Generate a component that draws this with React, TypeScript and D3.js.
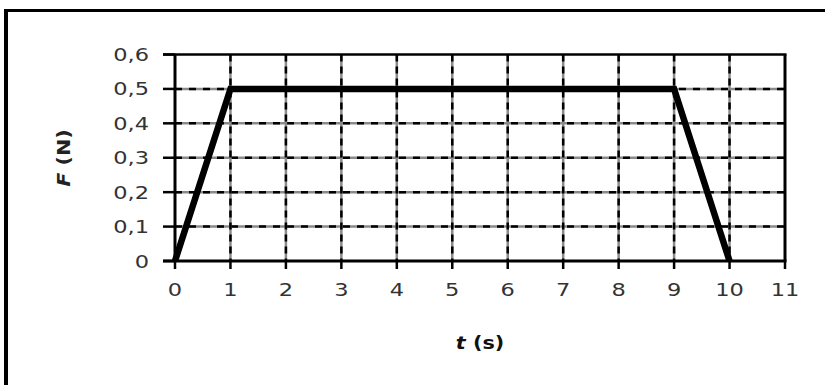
import React from 'react';
import * as d3 from 'd3';

const xTicks = [0, 1, 2, 3, 4, 5, 6, 7, 8, 9, 10, 11];
const yTicks = [0, 0.1, 0.2, 0.3, 0.4, 0.5, 0.6];
const yTickLabels = ['0', '0,1', '0,2', '0,3', '0,4', '0,5', '0,6'];
const timeS = [0, 1, 9, 10];
const forceN = [0, 0.5, 0.5, 0];

const W = 825;
const H = 385;

export default function App() {
  const x = d3.scaleLinear().domain([0, 11]).range([175, 785]);
  const y = d3.scaleLinear().domain([0, 0.6]).range([261, 54.5]);

  const line = d3.line<number>()
    .x((_, i) => x(timeS[i]))
    .y(d => y(d));

  const x0 = x(0), x1 = x(11), y0 = y(0), y1 = y(0.6);
  const font = '"DejaVu Sans", Arial, sans-serif';

  return (
    <svg width={W} height={H} style={{ position: 'absolute', left: 0, top: 0, background: '#fff' }}>
      {/* outer frame */}
      <line x1={4} x2={W} y1={10.5} y2={10.5} stroke="#000" strokeWidth={3} />
      <line x1={6} x2={6} y1={9} y2={H} stroke="#000" strokeWidth={4} />

      {/* horizontal grid */}
      {yTicks.slice(1, -1).map(t => (
        <g key={'h' + t}>
          <line x1={x0} x2={x1} y1={y(t)} y2={y(t)} stroke="#8a8a8a" strokeWidth={2.5} />
          <line x1={x0} x2={x1} y1={y(t)} y2={y(t)} stroke="#000" strokeWidth={2.5} strokeDasharray="7 7" />
        </g>
      ))}
      {/* vertical grid */}
      {xTicks.slice(1, -1).map(t => (
        <g key={'v' + t}>
          <line x1={x(t)} x2={x(t)} y1={y1} y2={y0} stroke="#8a8a8a" strokeWidth={2.5} />
          <line x1={x(t)} x2={x(t)} y1={y1} y2={y0} stroke="#000" strokeWidth={2.5} strokeDasharray="7 5" />
        </g>
      ))}

      {/* ticks */}
      {yTicks.map(t => (
        <line key={'yt' + t} x1={163} x2={x0} y1={y(t)} y2={y(t)} stroke="#000" strokeWidth={2.5} />
      ))}
      {xTicks.map(t => (
        <line key={'xt' + t} x1={x(t)} x2={x(t)} y1={y0} y2={y0 + 8} stroke="#000" strokeWidth={2.5} />
      ))}

      {/* plot border */}
      <line x1={x0} x2={x0} y1={y1} y2={y0} stroke="#000" strokeWidth={3} />
      <line x1={x1} x2={x1} y1={y1} y2={y0} stroke="#000" strokeWidth={3} />
      <line x1={163} x2={x1 + 1.5} y1={y1} y2={y1} stroke="#000" strokeWidth={2.5} />
      <line x1={163} x2={x1 + 1.5} y1={y0} y2={y0} stroke="#000" strokeWidth={3} />

      {/* data */}
      <path d={line(forceN) || ''} fill="none" stroke="#000" strokeWidth={6.5} strokeLinejoin="miter" />

      {/* tick labels */}
      {yTicks.map((t, i) => (
        <text key={'yl' + t} transform={`translate(149,${y(t) + 6.5}) scale(1.25,1)`} textAnchor="end"
          fontFamily={font} fontSize={18} fill="#333">{yTickLabels[i]}</text>
      ))}
      {xTicks.map(t => (
        <text key={'xl' + t} transform={`translate(${x(t)},${296}) scale(1.25,1)`} textAnchor="middle"
          fontFamily={font} fontSize={18} fill="#333">{String(t)}</text>
      ))}

      {/* axis titles */}
      <text transform="translate(480,349) scale(1.15,1)" textAnchor="middle" fontFamily={font} fontSize={18}
        fontWeight="bold" fill="#111">
        <tspan fontStyle="italic">t</tspan> (s)
      </text>
      <text transform="translate(70,158) rotate(-90) scale(1.15,1)" textAnchor="middle" fontFamily={font} fontSize={18}
        fontWeight="bold" fill="#222">
        <tspan fontStyle="italic">F</tspan> (N)
      </text>
    </svg>
  );
}
